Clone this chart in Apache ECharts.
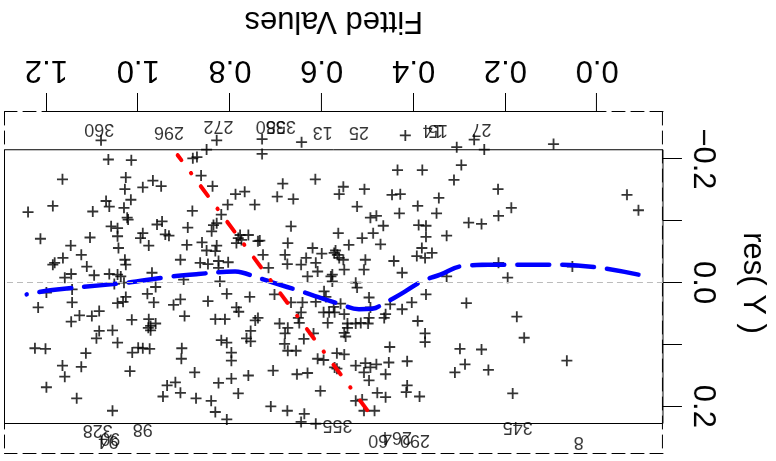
<!DOCTYPE html>
<html>
<head>
<meta charset="utf-8">
<script src="https://cdn.jsdelivr.net/npm/echarts@6/dist/echarts.min.js"></script>
<style>
  html, body { margin: 0; padding: 0; background: #fff; }
  /* the reference is drawn upside down, so the whole chart is turned round */
  #chart { width: 776px; height: 461px; transform: rotate(180deg); }
</style>
</head>
<body>
<div id="chart"></div>
<script>
// fitted values / residuals
var fitted = [
  1.081,1.065,1.015,0.881,0.872,0.851,0.829,1.165,1.027,1.029,
  0.968,0.950,0.990,0.863,0.838,1.070,1.063,1.016,1.031,1.186,
  1.240,1.099,1.024,1.022,0.882,0.788,0.768,0.805,0.819,0.746,
  1.059,1.045,1.045,0.959,0.948,0.941,0.933,0.990,0.995,0.977,
  0.892,0.836,0.840,0.829,1.213,1.147,1.105,1.043,0.894,0.861,
  0.851,0.829,0.832,0.782,0.775,0.786,1.124,1.164,1.186,1.182,
  1.112,1.029,1.027,0.908,0.848,0.825,0.804,0.825,0.970,1.063,
  1.045,1.038,1.096,1.146,1.160,0.760,0.778,0.739,0.865,
  0.730,0.730,0.644,0.418,0.306,0.268,0.246,0.435,0.381,0.296,
  0.312,0.685,0.614,0.553,0.562,0.507,0.447,0.429,0.345,0.216,
  0.697,0.662,0.523,0.494,0.481,0.431,0.391,0.350,0.466,0.389,
  0.373,0.373,0.328,0.280,0.252,0.215,0.667,0.564,0.512,0.488,
  0.472,0.541,0.674,0.735,0.620,0.600,0.573,0.566,0.570,0.553,
  0.562,0.505,0.443,0.382,0.393,0.375,0.360,0.728,0.680,0.675,
  0.634,0.645,0.613,0.609,0.631,0.580,0.577,0.716,0.508,0.425,
  0.328,0.215,0.095,-0.065,-0.090,0.187,0.054,0.195,
  0.577,0.551,0.526,0.523,0.595,0.591,0.548,0.703,
  0.667,0.642,0.613,0.739,0.745,
  0.692,0.674,0.680,0.645,0.651,0.649,0.587,0.584,0.596,0.574,
  0.572,0.559,0.551,0.544,0.526,0.515,0.551,0.544,0.497,0.494,
  0.497,0.499,0.461,0.464,0.451,0.425,0.404,0.373,0.391,0.375,
  0.375,0.285,0.639,0.618,0.681,0.674,0.656,0.609,0.596,0.567,
  0.551,0.572,0.567,0.452,0.526,0.505,0.494,0.481,0.454,0.508,
  0.497,0.461,0.414,0.706,0.654,0.631,
  0.603,0.526,0.512,0.479,0.461,0.414,0.416,0.387,0.299,0.252,
  0.288,0.310,0.237,0.711,0.675,0.638,0.645,0.613,0.508,0.485,
  1.052,1.031,0.901,0.822,1.200,1.144,1.144,1.218,1.027,1.045,
  1.033,0.980,0.962,0.966,0.923,0.908,0.848,0.807,0.757,0.786,
  0.781,1.146,1.128,1.101,1.085,1.014,0.977,0.973,0.962,0.978,
  0.973,0.899,0.832,0.811,
  1.085,1.091,1.056,1.045,1.225,1.202,1.114,1.165,1.160,1.124,
  1.200,1.134,1.056,1.018,1.013,1.000,0.990,0.975,0.905,0.906,
  0.877,0.819,0.807,0.797,0.797,0.764,0.755,0.755,0.937,0.919,
  0.946,0.908,0.874,0.841,0.832,0.807,0.825,0.797,0.782,0.760,
  0.175,0.159,0.066,0.184
];
var resid = [
  -0.230,-0.199,-0.198,-0.201,-0.203,-0.215,-0.230,-0.167,-0.170,-0.151,
  -0.165,-0.156,-0.154,-0.173,-0.156,-0.132,-0.123,-0.134,-0.121,-0.124,
  -0.114,-0.115,-0.105,-0.102,-0.116,-0.143,-0.147,-0.126,-0.110,-0.126,
  -0.091,-0.088,-0.075,-0.094,-0.099,-0.078,-0.076,-0.080,-0.072,-0.060,
  -0.089,-0.093,-0.083,-0.096,-0.071,-0.060,-0.073,-0.056,-0.061,-0.065,
  -0.052,-0.060,-0.051,-0.072,-0.069,-0.064,-0.045,-0.040,-0.029,-0.032,
  -0.026,-0.037,-0.029,-0.037,-0.030,-0.035,-0.033,-0.024,-0.016,-0.014,
  -0.013,-0.010,-0.012,-0.014,-0.008,-0.077,-0.077,-0.067,-0.032,
  -0.232,-0.208,-0.227,-0.238,-0.219,-0.231,-0.215,-0.182,-0.182,-0.190,
  -0.166,-0.160,-0.167,-0.155,-0.143,-0.151,-0.142,-0.143,-0.137,-0.151,
  -0.139,-0.135,-0.123,-0.105,-0.108,-0.112,-0.124,-0.112,-0.092,-0.093,
  -0.092,-0.074,-0.076,-0.097,-0.095,-0.108,-0.091,-0.080,-0.072,-0.080,
  -0.062,-0.061,-0.064,-0.068,-0.056,-0.047,-0.048,-0.045,-0.052,-0.037,
  -0.040,-0.037,-0.035,-0.056,-0.043,-0.040,-0.048,-0.045,-0.045,-0.030,
  -0.040,-0.029,-0.032,-0.018,-0.010,-0.010,-0.013,-0.024,-0.021,-0.016,
  -0.010,-0.032,-0.224,-0.142,-0.117,-0.121,-0.026,-0.008,
  -0.002,-0.021,0.000,0.008,0.014,0.023,0.087,0.019,
  0.032,0.032,0.031,0.057,0.061,
  0.066,0.073,0.082,0.048,0.057,0.065,0.065,0.048,0.048,0.039,
  0.048,0.034,0.051,0.066,0.066,0.065,0.081,0.073,0.024,0.040,
  0.057,0.066,0.051,0.057,0.035,0.043,0.032,0.019,0.062,0.082,
  0.096,0.033,0.091,0.082,0.099,0.110,0.110,0.123,0.125,0.114,
  0.116,0.137,0.139,0.104,0.134,0.130,0.137,0.132,0.129,0.145,
  0.158,0.148,0.127,0.142,0.148,0.146,
  0.175,0.191,0.189,0.178,0.185,0.166,0.177,0.184,0.107,0.108,
  0.132,0.145,0.141,0.200,0.207,0.212,0.225,0.228,0.207,0.207,
  0.002,0.000,-0.005,-0.002,0.016,0.011,0.032,0.040,0.023,0.033,
  0.031,0.018,0.007,0.032,0.036,0.027,0.030,0.018,0.023,0.040,
  0.047,0.063,0.053,0.054,0.046,0.060,0.059,0.070,0.066,0.073,
  0.077,0.054,0.059,0.059,
  0.078,0.090,0.077,0.097,0.106,0.107,0.114,0.134,0.152,0.136,
  0.169,0.187,0.207,0.143,0.113,0.105,0.106,0.107,0.106,0.123,
  0.145,0.093,0.097,0.113,0.126,0.090,0.095,0.078,0.166,0.161,
  0.184,0.178,0.187,0.191,0.209,0.221,0.162,0.155,0.179,0.150,
  0.055,0.089,0.126,0.179
];

// smoother (blue dashed)
var smoothFit = [-0.090,0.004,0.105,0.220,0.292,0.342,0.382,0.429,0.461,0.490,0.519,0.559,
                 0.609,0.645,0.706,0.739,0.789,0.869,0.926,1.013,1.078,1.187,1.243];
var smoothRes = [-0.013,-0.025,-0.029,-0.029,-0.027,-0.013,-0.002,0.019,0.032,0.042,0.043,0.035,
                 0.023,0.014,0.000,-0.008,-0.018,-0.014,-0.010,-0.001,0.004,0.012,0.019];

// red dot-dash line
var refFit = [0.501, 0.914];
var refRes = [0.206, -0.206];

// labelled observations
var labelIds = ['360','296','272','358','350','13','25','15','14','27',
                '328','98','90','94','355','290','264','60','345','8'];
var labelFit = [1.085,0.933,0.825,0.689,0.711,0.598,0.519,0.347,0.358,0.252,
                1.088,0.990,1.061,1.065,0.566,0.397,0.436,0.477,0.173,0.040];
var labelRes = [-0.248,-0.243,-0.254,-0.254,-0.254,-0.243,-0.243,-0.246,-0.246,-0.248,
                0.238,0.236,0.251,0.256,0.230,0.254,0.250,0.254,0.233,0.257];

// axes
var xTicks = [0.0, 0.2, 0.4, 0.6, 0.8, 1.0, 1.2];
var yTicks = [-0.2, -0.1, 0.0, 0.1, 0.2];
var yLabels = [-0.2, 0.0, 0.2];
var xRange = [-0.1434, 1.2913];   // outer dashed frame
var yRange = [-0.2758, 0.2769];
var boxRes = [-0.2148, 0.2276];   // inner solid frame

var FONT = 'Liberation Sans, Arial, sans-serif';
var dashed = { color: '#000', width: 1, type: [13, 6] };

var points = fitted.map(function (f, i) { return [f, resid[i]]; });
var smooth = smoothFit.map(function (f, i) { return [f, smoothRes[i]]; });
var ref = refFit.map(function (f, i) { return [f, refRes[i]]; });
var labels = labelIds.map(function (id, i) {
  return { name: id, value: [labelFit[i], labelRes[i]] };
});

var myChart = echarts.init(document.getElementById('chart'));
myChart.setOption({
  animation: false,
  grid: { left: 108, top: 7, width: 663.5, height: 344.3 },
  xAxis: [{
    type: 'value', min: xRange[0], max: xRange[1], position: 'bottom',
    name: 'Fitted Values', nameLocation: 'middle', nameGap: 76,
    nameTextStyle: { fontSize: 31, color: '#000', fontFamily: FONT },
    axisLine: { show: true, onZero: false, lineStyle: dashed },
    axisTick: { show: true, length: 19, customValues: xTicks, lineStyle: { color: '#000', width: 1 } },
    axisLabel: {
      show: true, customValues: xTicks, margin: 27, fontSize: 31, color: '#000', fontFamily: FONT,
      formatter: function (v) { return v.toFixed(1); }
    },
    splitLine: { show: false }
  }, {
    type: 'value', min: xRange[0], max: xRange[1], position: 'top',
    axisLine: { show: true, onZero: false, lineStyle: dashed },
    axisTick: { show: false }, axisLabel: { show: false }, splitLine: { show: false }
  }],
  yAxis: [{
    type: 'value', min: yRange[0], max: yRange[1], position: 'left',
    name: 'res( Y )', nameLocation: 'middle', nameGap: 74, nameRotate: 90,
    nameTextStyle: { fontSize: 31, color: '#000', fontFamily: FONT },
    axisLine: { show: true, onZero: false, lineStyle: dashed },
    axisTick: { show: true, length: 19, customValues: yTicks, lineStyle: { color: '#000', width: 1 } },
    axisLabel: {
      show: true, customValues: yLabels, rotate: 90, margin: 24, fontSize: 31, color: '#000', fontFamily: FONT,
      formatter: function (v) { return (v < 0 ? '\u2212' : '') + Math.abs(v).toFixed(1); }
    },
    splitLine: { show: false }
  }, {
    type: 'value', min: yRange[0], max: yRange[1], position: 'right',
    axisLine: { show: true, onZero: false, lineStyle: dashed },
    axisTick: { show: false }, axisLabel: { show: false }, splitLine: { show: false }
  }],
  series: [{
    type: 'scatter',
    data: points,
    symbol: 'path://M0,5L10,5M5,0L5,10',
    symbolSize: 11,
    itemStyle: { color: 'rgba(0,0,0,0)', borderColor: '#000', borderWidth: 1.8 },
    emphasis: { disabled: true },
    silent: true,
    markArea: {
      silent: true,
      itemStyle: { color: 'rgba(0,0,0,0)', borderColor: '#000', borderWidth: 1 },
      label: { show: false },
      data: [[{ coord: [xRange[0], boxRes[0]] }, { coord: [xRange[1], boxRes[1]] }]]
    },
    markLine: {
      silent: true, symbol: 'none', label: { show: false },
      data: [
        { yAxis: 0, lineStyle: { color: '#bbbbbb', width: 1, type: [6, 4] } },
        [{ coord: [xTicks[0], yRange[0]], lineStyle: { color: '#000', width: 1, type: 'solid' } },
         { coord: [xTicks[xTicks.length - 1], yRange[0]] }]
      ]
    }
  }, {
    type: 'line',
    data: smooth,
    smooth: 0.4,
    symbol: 'none',
    lineStyle: { color: '#0000ff', width: 4.5, type: [32, 13], cap: 'round' },
    silent: true
  }, {
    type: 'line',
    data: ref,
    symbol: 'none',
    lineStyle: { color: '#ff0000', width: 4, type: [12, 16, 0.5, 16], cap: 'round' },
    silent: true
  }, {
    type: 'scatter',
    data: labels,
    symbolSize: 1,
    itemStyle: { color: 'rgba(0,0,0,0)' },
    label: {
      show: true, position: 'inside', formatter: '{b}',
      fontSize: 18, color: '#000', fontFamily: FONT
    },
    silent: true
  }]
});
</script>
</body>
</html>
